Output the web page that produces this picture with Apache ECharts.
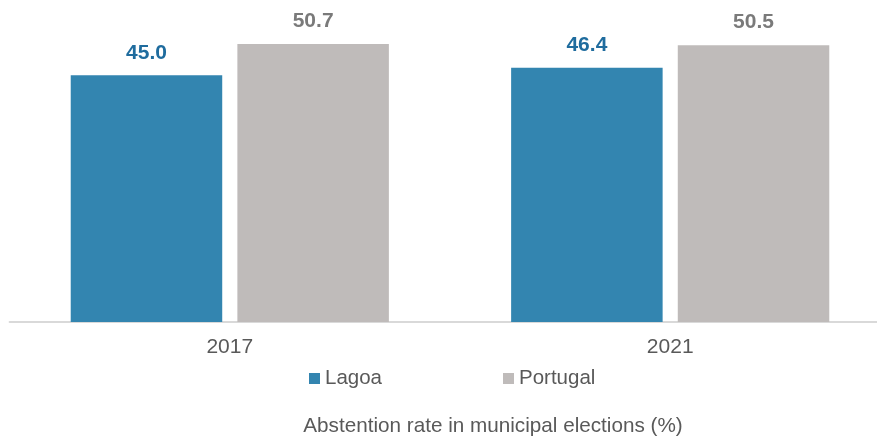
<!DOCTYPE html>
<html>
<head>
<meta charset="utf-8">
<script src="https://cdn.jsdelivr.net/npm/echarts@6/dist/echarts.min.js"></script>
<style>
html,body{margin:0;padding:0;background:#fff;}
#c{width:877px;height:441px;}
</style>
</head>
<body>
<div id="c"></div>
<script>
var categories = ['2017', '2021'];
var lagoa = [45.0, 46.4];
var portugal = [50.7, 50.5];
var seriesNames = ['Lagoa', 'Portugal'];
var titleText = 'Abstention rate in municipal elections (%)';

var chart = echarts.init(document.getElementById('c'), null, {renderer: 'canvas'});
var font = 'Liberation Sans, Arial, sans-serif';
chart.setOption({
  animation: false,
  backgroundColor: '#ffffff',
  title: {
    text: titleText,
    left: 493, textAlign: 'center',
    top: 416, padding: 0,
    textStyle: {fontFamily: font, fontSize: 20.7, fontWeight: 'normal', color: '#595959'}
  },
  legend: {
    data: seriesNames,
    left: 309, top: 368, padding: 0,
    icon: 'rect', itemWidth: 11, itemHeight: 11, itemGap: 121,
    textStyle: {fontFamily: font, fontSize: 20.5, color: '#595959'}
  },
  grid: {left: 9.6, width: 880.8, top: 20.5, bottom: 119, containLabel: false, outerBoundsMode: 'none'},
  xAxis: {
    type: 'category', data: categories,
    axisLine: {show: true, lineStyle: {color: '#d9d9d9', width: 2}},
    axisTick: {show: false},
    axisLabel: {fontFamily: font, fontSize: 21, color: '#595959', margin: 15}
  },
  yAxis: {type: 'value', min: 0, max: 55, show: false, splitLine: {show: false}},
  series: [
    {name: seriesNames[0], type: 'bar', data: lagoa, barWidth: 151.5, barGap: '10%',
     itemStyle: {color: '#3385b0'},
     label: {show: true, position: 'top', distance: 12, formatter: function(p){return p.value.toFixed(1);},
       fontFamily: font, fontSize: 21, fontWeight: 'bold', color: '#1f6c9e'}},
    {name: seriesNames[1], type: 'bar', data: portugal, barWidth: 151.5,
     itemStyle: {color: '#bfbbba'},
     label: {show: true, position: 'top', distance: 12, formatter: function(p){return p.value.toFixed(1);},
       fontFamily: font, fontSize: 21, fontWeight: 'bold', color: '#7a7a7a'}}
  ]
});
</script>
</body>
</html>
